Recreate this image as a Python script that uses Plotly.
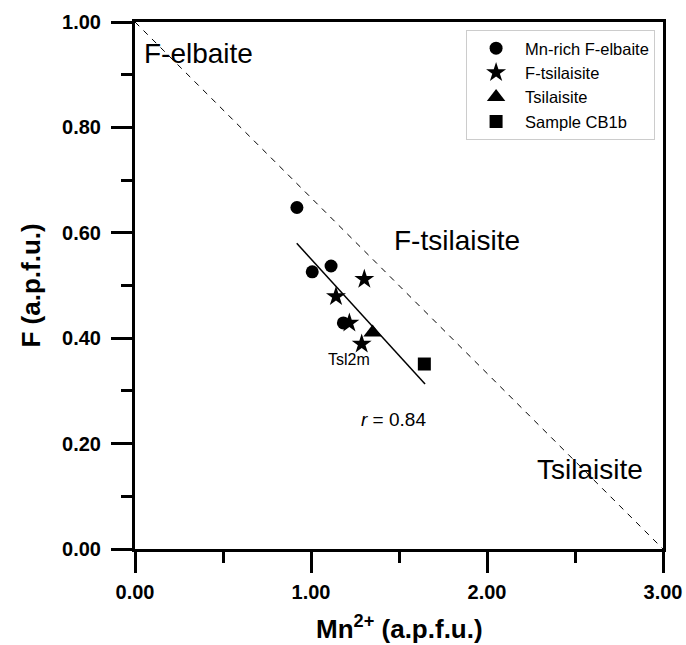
import plotly.graph_objects as go

# Data (Mn2+ a.p.f.u., F a.p.f.u.)
elbaite_x = [0.92, 1.007, 1.114, 1.184]
elbaite_y = [0.648, 0.526, 0.537, 0.429]
ftsl_x = [1.303, 1.142, 1.218, 1.288]
ftsl_y = [0.512, 0.479, 0.429, 0.389]
tsl_x = [1.35]
tsl_y = [0.411]
cb1b_x = [1.644]
cb1b_y = [0.351]
fit_x = [0.919, 1.648]
fit_y = [0.580, 0.313]
boundary_x = [0.0, 3.0]
boundary_y = [1.0, 0.0]

FONT = "Arial, Liberation Sans, sans-serif"

fig = go.Figure()
fig.add_trace(go.Scatter(x=boundary_x, y=boundary_y, mode="lines",
                         line=dict(color="black", width=1, dash="6px,6px"),
                         showlegend=False, hoverinfo="skip"))
fig.add_trace(go.Scatter(x=fit_x, y=fit_y, mode="lines",
                         line=dict(color="black", width=1.5),
                         showlegend=False, hoverinfo="skip"))
fig.add_trace(go.Scatter(x=elbaite_x, y=elbaite_y, mode="markers", name="Mn-rich F-elbaite",
                         marker=dict(symbol="circle", size=13, color="black")))
fig.add_trace(go.Scatter(x=ftsl_x, y=ftsl_y, mode="markers", name="F-tsilaisite",
                         marker=dict(symbol="star", size=15, color="black")))
fig.add_trace(go.Scatter(x=tsl_x, y=tsl_y, mode="markers", name="Tsilaisite",
                         marker=dict(symbol="triangle-up", size=16, color="black")))
fig.add_trace(go.Scatter(x=cb1b_x, y=cb1b_y, mode="markers", name="Sample CB1b",
                         marker=dict(symbol="square", size=13, color="black")))

axis_common = dict(
    showgrid=False, zeroline=False, showline=True, linecolor="black", linewidth=3,
    mirror=True, ticks="outside", ticklen=21, tickwidth=2.5, tickcolor="black",
    tickformat=".2f", tickfont=dict(family=FONT, size=20, color="black", weight="bold"),
    ticklabeloverflow="allow", automargin=False,
)
fig.update_xaxes(range=[0, 3], dtick=1, tick0=0, ticklabelstandoff=2,
                 minor=dict(dtick=0.5, ticklen=11, tickwidth=2.5, tickcolor="black", ticks="outside"),
                 **axis_common)
fig.update_yaxes(range=[0, 1], dtick=0.2, tick0=0, ticklabelstandoff=6,
                 minor=dict(dtick=0.1, ticklen=11, tickwidth=2.5, tickcolor="black", ticks="outside"),
                 **axis_common)

ann = []
ann.append(dict(x=0.36, y=0.94, xref="x", yref="y", text="F-elbaite", showarrow=False,
                font=dict(family=FONT, size=28, color="black")))
ann.append(dict(x=1.83, y=0.586, xref="x", yref="y", text="F-tsilaisite", showarrow=False,
                font=dict(family=FONT, size=28, color="black")))
ann.append(dict(x=2.585, y=0.15, xref="x", yref="y", text="Tsilaisite", showarrow=False,
                font=dict(family=FONT, size=28, color="black")))
ann.append(dict(x=1.466, y=0.245, xref="x", yref="y", text="<i>r</i> = 0.84", showarrow=False,
                font=dict(family=FONT, size=19, color="black")))
ann.append(dict(x=1.215, y=0.36, xref="x", yref="y", text="Tsl2m", showarrow=False,
                font=dict(family=FONT, size=16, color="black")))
ann.append(dict(x=0.5, y=0, xref="paper", yref="paper", yshift=-78, yanchor="middle",
                text="<b>Mn<sup>2+</sup> (a.p.f.u.)</b>", showarrow=False,
                font=dict(family=FONT, size=26, color="black")))
ann.append(dict(x=-0.197, y=0.5, xref="paper", yref="paper", textangle=-90,
                xanchor="center", yanchor="middle",
                text="<b>F (a.p.f.u.)</b>", showarrow=False,
                font=dict(family=FONT, size=26, color="black")))

fig.update_layout(
    width=686, height=645,
    margin=dict(l=135, r=23, t=22, b=96, autoexpand=False),
    paper_bgcolor="white", plot_bgcolor="white",
    annotations=ann,
    showlegend=True,
    legend=dict(x=0.985, y=0.985, xanchor="right", yanchor="top",
                bordercolor="#cccccc", borderwidth=1, bgcolor="white",
                font=dict(family=FONT, size=16.5, color="black"),
                tracegroupgap=0, itemwidth=48),
    font=dict(family=FONT, color="black"),
)

fig.write_html("out.html", config={"displayModeBar": False},
               post_script="document.body.style.margin='0';document.body.style.overflow='hidden';")
